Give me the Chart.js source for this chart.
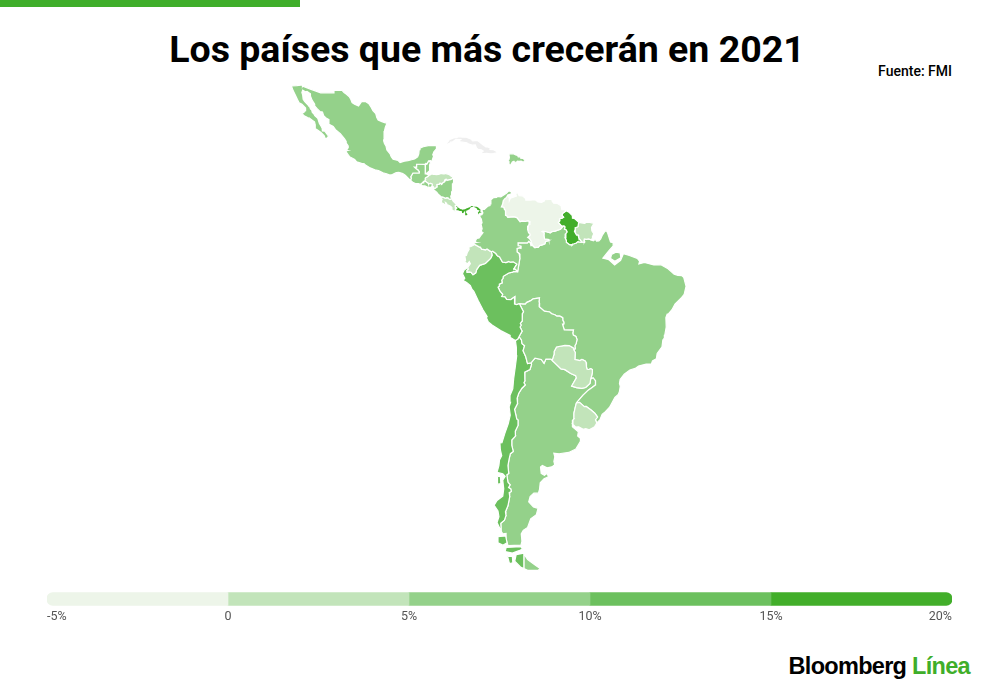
<!DOCTYPE html>
<html lang="es">
<head>
<meta charset="utf-8">
<title>Los países que más crecerán en 2021</title>
<script src="https://cdn.jsdelivr.net/npm/chart.js@4"></script>
<style>
    html, body { margin: 0; padding: 0; background: #fff; width: 1000px; height: 695px; overflow: hidden; font-family: Roboto, sans-serif; }
    #barra { position: absolute; left: 0; top: 0; width: 300px; height: 7px; background: #3fae2a; }
    h1 { position: absolute; left: 0; top: 27px; width: 974px; margin: 0; text-align: center; font-size: 37.5px; line-height: 44px; font-weight: 700; color: #000; }
    #fuente { position: absolute; right: 48px; top: 64px; font-size: 14px; line-height: 14px; font-weight: 500; color: #000; }
    #mapa { position: absolute; left: 250px; top: 80px; }
    #escala { position: absolute; left: 47px; top: 589px; }
    #logo { position: absolute; right: 30px; top: 652px; font-family: "Liberation Sans", sans-serif; font-size: 23.5px; line-height: 28px; font-weight: 700; letter-spacing: -0.7px; color: #000; }
    #logo span { color: #3fae2a; }
</style>
</head>
<body>
<div id="barra"></div>
<h1>Los países que más crecerán en 2021</h1>
<div id="fuente">Fuente: FMI</div>
<canvas id="mapa" width="470" height="505"></canvas>
<canvas id="escala" width="905" height="35"></canvas>
<div id="logo">Bloomberg <span>Línea</span></div>
<script>
// contornos en [longitud, latitud]
const mexico = [[-97.14,25.87],[-97.53,24.99],[-97.7,24.27],[-97.78,22.93],[-97.87,22.44],[-97.7,21.9],[-97.39,21.41],[-97.19,20.64],[-96.53,19.89],[-96.29,19.32],[-95.9,18.83],[-94.84,18.56],[-94.43,18.14],[-93.55,18.42],[-92.79,18.52],[-92.04,18.7],[-91.41,18.88],[-90.77,19.28],[-90.53,19.87],[-90.45,20.71],[-90.28,21],[-89.6,21.26],[-88.54,21.49],[-87.66,21.46],[-87.05,21.54],[-86.81,21.33],[-86.85,20.85],[-87.38,20.26],[-87.62,19.65],[-87.44,19.47],[-87.59,19.04],[-87.84,18.26],[-88.09,18.52],[-88.3,18.5],[-88.49,18.49],[-88.85,17.88],[-89.03,18],[-89.15,17.96],[-89.14,17.81],[-90.07,17.82],[-91,17.82],[-91,17.25],[-91.45,17.25],[-91.08,16.92],[-90.71,16.69],[-90.6,16.47],[-90.44,16.41],[-90.46,16.07],[-91.75,16.07],[-92.23,15.25],[-92.09,15.06],[-92.2,14.83],[-92.23,14.54],[-93.36,15.62],[-93.88,15.94],[-94.69,16.2],[-95.25,16.13],[-96.05,15.77],[-96.56,15.65],[-97.26,15.92],[-98.01,16.11],[-98.95,16.57],[-99.7,16.71],[-100.83,17.17],[-101.67,17.65],[-101.92,17.92],[-102.48,17.98],[-103.5,18.29],[-103.92,18.75],[-104.99,19.32],[-105.49,19.95],[-105.73,20.43],[-105.4,20.53],[-105.5,20.82],[-105.27,21.08],[-105.27,21.42],[-105.6,21.87],[-105.69,22.27],[-106.03,22.77],[-106.91,23.77],[-107.92,24.55],[-108.4,25.17],[-109.26,25.58],[-109.44,25.82],[-109.29,26.44],[-109.8,26.68],[-110.39,27.16],[-110.64,27.86],[-111.18,27.94],[-111.76,28.47],[-112.23,28.95],[-112.27,29.27],[-112.81,30.02],[-113.16,30.79],[-113.15,31.17],[-113.87,31.57],[-114.21,31.52],[-114.78,31.8],[-114.94,31.39],[-114.77,30.91],[-114.67,30.16],[-114.33,29.75],[-113.59,29.06],[-113.42,28.83],[-113.27,28.75],[-113.14,28.41],[-112.96,28.43],[-112.76,27.78],[-112.46,27.53],[-112.24,27.17],[-111.62,26.66],[-111.28,25.73],[-110.99,25.29],[-110.71,24.83],[-110.66,24.3],[-110.17,24.27],[-109.77,23.81],[-109.41,23.36],[-109.43,23.19],[-109.85,22.82],[-110.03,22.82],[-110.3,23.43],[-110.95,24],[-111.67,24.48],[-112.18,24.74],[-112.15,25.47],[-112.3,26.01],[-112.78,26.32],[-113.46,26.77],[-113.6,26.64],[-113.85,26.9],[-114.47,27.14],[-115.06,27.72],[-114.98,27.8],[-114.57,27.74],[-114.2,28.12],[-114.16,28.57],[-114.93,29.28],[-115.52,29.56],[-115.89,30.18],[-116.26,30.84],[-116.72,31.64],[-117.13,32.54],[-115.99,32.61],[-114.72,32.72],[-114.82,32.53],[-113.3,32.04],[-111.02,31.33],[-109.04,31.34],[-108.24,31.34],[-108.24,31.75],[-106.51,31.75],[-106.14,31.4],[-105.63,31.08],[-105.04,30.64],[-104.71,30.12],[-104.46,29.57],[-103.94,29.27],[-103.11,28.97],[-102.48,29.76],[-101.66,29.78],[-100.96,29.38],[-100.46,28.7],[-100.11,28.11],[-99.52,27.54],[-99.3,26.84],[-99.02,26.37],[-98.24,26.06],[-97.53,25.84],[-97.14,25.87]];
const guatemala = [[-90.1,13.74],[-90.61,13.91],[-91.23,13.93],[-91.69,14.13],[-92.23,14.54],[-92.2,14.83],[-92.09,15.06],[-92.23,15.25],[-91.75,16.07],[-90.46,16.07],[-90.44,16.41],[-90.6,16.47],[-90.71,16.69],[-91.08,16.92],[-91.45,17.25],[-91,17.25],[-91,17.82],[-90.07,17.82],[-89.14,17.81],[-89.15,17.02],[-89.23,15.89],[-88.93,15.89],[-88.6,15.71],[-88.52,15.86],[-88.23,15.73],[-88.68,15.35],[-89.15,15.07],[-89.23,14.87],[-89.15,14.68],[-89.35,14.42],[-89.59,14.36],[-89.53,14.24],[-89.72,14.13],[-90.06,13.88],[-90.1,13.74]];
const belice = [[-89.14,17.81],[-89.15,17.96],[-89.03,18],[-88.85,17.88],[-88.49,18.49],[-88.3,18.5],[-88.3,18.35],[-88.11,18.35],[-88.12,18.08],[-88.29,17.64],[-88.2,17.49],[-88.3,17.13],[-88.24,17.04],[-88.36,16.53],[-88.55,16.27],[-88.73,16.23],[-88.93,15.89],[-89.23,15.89],[-89.15,17.02],[-89.14,17.81]];
const elSalvador = [[-87.79,13.38],[-87.9,13.15],[-88.48,13.16],[-88.84,13.26],[-89.26,13.46],[-89.81,13.52],[-90.1,13.74],[-90.06,13.88],[-89.72,14.13],[-89.53,14.24],[-89.59,14.36],[-89.35,14.42],[-89.06,14.34],[-88.84,14.14],[-88.54,13.98],[-88.5,13.85],[-88.07,13.96],[-87.86,13.89],[-87.72,13.79],[-87.79,13.38]];
const honduras = [[-83.15,15],[-83.49,15.02],[-83.63,14.88],[-83.98,14.75],[-84.23,14.75],[-84.45,14.62],[-84.65,14.67],[-84.82,14.82],[-84.92,14.79],[-85.05,14.55],[-85.15,14.56],[-85.17,14.35],[-85.51,14.08],[-85.7,13.96],[-85.8,13.84],[-86.1,14.04],[-86.31,13.77],[-86.52,13.78],[-86.76,13.75],[-86.73,13.26],[-86.88,13.25],[-87.01,13.03],[-87.32,12.98],[-87.49,13.3],[-87.79,13.38],[-87.72,13.79],[-87.86,13.89],[-88.07,13.96],[-88.5,13.85],[-88.54,13.98],[-88.84,14.14],[-89.06,14.34],[-89.35,14.42],[-89.15,14.68],[-89.23,14.87],[-89.15,15.07],[-88.68,15.35],[-88.23,15.73],[-88.12,15.69],[-87.9,15.86],[-87.62,15.88],[-87.52,15.8],[-87.37,15.85],[-86.9,15.76],[-86.44,15.78],[-86.12,15.89],[-86,16.01],[-85.68,15.95],[-85.44,15.89],[-85.18,15.91],[-84.98,16],[-84.53,15.86],[-84.37,15.84],[-84.06,15.65],[-83.77,15.42],[-83.41,15.27],[-83.15,15]];
const nicaragua = [[-83.66,10.94],[-83.9,10.73],[-84.19,10.79],[-84.36,11],[-84.67,11.08],[-84.9,10.95],[-85.56,11.22],[-85.71,11.09],[-86.06,11.4],[-86.53,11.81],[-86.75,12.14],[-87.17,12.46],[-87.67,12.91],[-87.56,13.06],[-87.39,12.91],[-87.32,12.98],[-87.01,13.03],[-86.88,13.25],[-86.73,13.26],[-86.76,13.75],[-86.52,13.78],[-86.31,13.77],[-86.1,14.04],[-85.8,13.84],[-85.7,13.96],[-85.51,14.08],[-85.17,14.35],[-85.15,14.56],[-85.05,14.55],[-84.92,14.79],[-84.82,14.82],[-84.65,14.67],[-84.45,14.62],[-84.23,14.75],[-83.98,14.75],[-83.63,14.88],[-83.49,15.02],[-83.15,15],[-83.23,14.9],[-83.28,14.68],[-83.18,14.31],[-83.41,13.97],[-83.52,13.57],[-83.55,13.13],[-83.5,12.87],[-83.47,12.42],[-83.63,12.32],[-83.72,11.89],[-83.65,11.63],[-83.86,11.37],[-83.81,11.1],[-83.66,10.94]];
const costaRica = [[-82.97,8.23],[-83.51,8.45],[-83.71,8.66],[-83.6,8.83],[-83.63,9.05],[-83.91,9.29],[-84.3,9.49],[-84.65,9.62],[-84.71,9.91],[-84.98,10.09],[-84.91,9.8],[-85.11,9.56],[-85.34,9.83],[-85.66,9.93],[-85.8,10.13],[-85.79,10.44],[-85.66,10.75],[-85.94,10.9],[-85.71,11.09],[-85.56,11.22],[-84.9,10.95],[-84.67,11.08],[-84.36,11],[-84.19,10.79],[-83.9,10.73],[-83.66,10.94],[-83.4,10.4],[-83.02,9.99],[-82.55,9.57],[-82.93,9.48],[-82.93,9.07],[-82.72,8.93],[-82.87,8.81],[-82.83,8.63],[-82.91,8.42],[-82.97,8.23]];
const panama = [[-77.35,8.67],[-77.47,8.52],[-77.24,7.94],[-77.43,7.64],[-77.75,7.71],[-77.88,7.22],[-78.21,7.51],[-78.43,8.05],[-78.18,8.32],[-78.44,8.39],[-78.62,8.72],[-79.12,9],[-79.56,8.93],[-79.76,8.58],[-80.16,8.33],[-80.38,8.3],[-80.48,8.09],[-80,7.55],[-80.28,7.42],[-80.42,7.27],[-80.89,7.22],[-81.06,7.82],[-81.19,7.65],[-81.52,7.71],[-81.72,8.11],[-82.13,8.18],[-82.39,8.29],[-82.82,8.29],[-82.85,8.07],[-82.97,8.23],[-82.91,8.42],[-82.83,8.63],[-82.87,8.81],[-82.72,8.93],[-82.93,9.07],[-82.93,9.48],[-82.55,9.57],[-82.19,9.21],[-81.81,8.95],[-81.71,9.03],[-81.44,8.79],[-80.95,8.86],[-80.52,9.11],[-79.91,9.31],[-79.57,9.61],[-79.02,9.55],[-79.06,9.45],[-78.5,9.42],[-78.06,9.25],[-77.73,8.95],[-77.35,8.67]];
const cuba = [[-82.27,23.19],[-81.4,23.12],[-80.62,23.11],[-79.68,22.77],[-79.28,22.4],[-78.35,22.51],[-77.99,22.28],[-77.15,21.66],[-76.52,21.21],[-76.19,21.22],[-75.6,21.02],[-75.67,20.74],[-74.93,20.69],[-74.18,20.28],[-74.3,20.05],[-74.96,19.92],[-75.63,19.87],[-76.32,19.95],[-77.76,19.86],[-77.09,20.41],[-77.49,20.67],[-78.14,20.74],[-78.48,21.03],[-78.72,21.6],[-79.29,21.56],[-80.22,21.83],[-80.52,22.04],[-81.82,22.19],[-82.17,22.39],[-81.8,22.64],[-82.78,22.69],[-83.49,22.17],[-83.91,22.15],[-84.05,21.91],[-84.55,21.8],[-84.97,21.9],[-84.45,22.2],[-84.23,22.57],[-83.78,22.79],[-83.27,22.98],[-82.51,23.08],[-82.27,23.19]];
const dominicana = [[-71.71,19.71],[-71.59,19.88],[-70.81,19.88],[-70.21,19.62],[-69.95,19.65],[-69.77,19.29],[-69.22,19.31],[-69.25,19.02],[-68.81,18.98],[-68.32,18.61],[-68.69,18.21],[-69.16,18.42],[-69.62,18.38],[-69.95,18.43],[-70.13,18.25],[-70.52,18.18],[-70.67,18.43],[-71,18.28],[-71.4,17.6],[-71.66,17.76],[-71.71,18.04],[-71.69,18.32],[-71.95,18.62],[-71.7,18.79],[-71.62,19.17],[-71.71,19.71]];
const colombia = [[-75.37,-0.15],[-75.8,0.08],[-76.29,0.42],[-76.58,0.26],[-77.42,0.4],[-77.67,0.83],[-77.86,0.81],[-78.86,1.38],[-78.99,1.69],[-78.62,1.77],[-78.66,2.27],[-78.43,2.63],[-77.93,2.7],[-77.51,3.33],[-77.13,3.85],[-77.5,4.09],[-77.31,4.67],[-77.53,5.58],[-77.32,5.85],[-77.48,6.69],[-77.88,7.22],[-77.75,7.71],[-77.43,7.64],[-77.24,7.94],[-77.47,8.52],[-77.35,8.67],[-76.84,8.64],[-76.09,9.34],[-75.67,9.44],[-75.66,9.77],[-75.48,10.62],[-74.91,11.08],[-74.28,11.1],[-74.2,11.31],[-73.41,11.23],[-72.63,11.73],[-72.24,11.96],[-71.75,12.44],[-71.4,12.38],[-71.14,12.11],[-71.33,11.78],[-71.97,11.61],[-72.23,11.11],[-72.61,10.82],[-72.91,10.45],[-73.03,9.74],[-73.3,9.15],[-72.79,9.09],[-72.66,8.63],[-72.44,8.41],[-72.36,8],[-72.48,7.63],[-72.44,7.42],[-72.2,7.34],[-71.96,6.99],[-70.67,7.09],[-70.09,6.96],[-69.39,6.1],[-68.99,6.21],[-68.27,6.15],[-67.7,6.27],[-67.34,6.1],[-67.52,5.56],[-67.74,5.22],[-67.82,4.5],[-67.62,3.84],[-67.34,3.54],[-67.3,3.32],[-67.81,2.82],[-67.45,2.6],[-67.18,2.25],[-66.88,1.25],[-67.07,1.13],[-67.26,1.72],[-67.54,2.04],[-67.87,1.69],[-69.82,1.71],[-69.8,1.09],[-69.22,0.99],[-69.25,0.6],[-69.45,0.71],[-70.02,0.54],[-70.02,-0.19],[-69.58,-0.55],[-69.42,-1.12],[-69.44,-1.56],[-69.89,-4.3],[-70.39,-3.77],[-70.69,-3.74],[-70.05,-2.73],[-70.81,-2.26],[-71.41,-2.34],[-71.77,-2.17],[-72.33,-2.43],[-73.07,-2.31],[-73.66,-1.26],[-74.12,-1],[-74.44,-0.53],[-75.11,-0.06],[-75.37,-0.15]];
const venezuela = [[-71.33,11.78],[-71.36,11.54],[-71.95,11.42],[-71.62,10.97],[-71.63,10.45],[-71.4,10.97],[-70.16,11.38],[-70.29,11.85],[-69.94,12.16],[-69.58,11.46],[-68.88,11.44],[-68.23,10.89],[-68.19,10.55],[-67.3,10.55],[-66.23,10.65],[-65.66,10.2],[-64.89,10.08],[-64.33,10.39],[-64.32,10.64],[-63.08,10.7],[-61.88,10.72],[-62.73,10.42],[-62.39,9.95],[-61.59,9.87],[-60.83,9.38],[-60.67,8.58],[-60.15,8.6],[-59.76,8.37],[-60.55,7.78],[-60.64,7.42],[-60.3,7.04],[-60.54,6.86],[-61.16,6.7],[-61.14,6.23],[-61.41,5.96],[-60.73,5.2],[-60.6,4.92],[-60.97,4.54],[-62.09,4.16],[-62.8,4.01],[-63.09,3.77],[-63.89,4.02],[-64.63,4.15],[-64.82,4.06],[-64.37,3.8],[-64.41,3.13],[-64.27,2.5],[-63.42,2.41],[-63.37,2.2],[-64.08,1.92],[-64.2,1.49],[-64.61,1.33],[-65.35,1.1],[-65.55,0.79],[-66.33,0.72],[-66.88,1.25],[-67.18,2.25],[-67.45,2.6],[-67.81,2.82],[-67.3,3.32],[-67.34,3.54],[-67.62,3.84],[-67.82,4.5],[-67.74,5.22],[-67.52,5.56],[-67.34,6.1],[-67.7,6.27],[-68.27,6.15],[-68.99,6.21],[-69.39,6.1],[-70.09,6.96],[-70.67,7.09],[-71.96,6.99],[-72.2,7.34],[-72.44,7.42],[-72.48,7.63],[-72.36,8],[-72.44,8.41],[-72.66,8.63],[-72.79,9.09],[-73.3,9.15],[-73.03,9.74],[-72.91,10.45],[-72.61,10.82],[-72.23,11.11],[-71.97,11.61],[-71.33,11.78]];
const guyana = [[-59.76,8.37],[-59.1,8],[-58.48,7.35],[-58.45,6.83],[-58.08,6.81],[-57.54,6.32],[-57.15,5.97],[-57.31,5.07],[-57.91,4.81],[-57.86,4.58],[-58.04,4.06],[-57.6,3.33],[-57.28,3.33],[-57.15,2.77],[-56.54,1.9],[-56.78,1.86],[-57.34,1.95],[-57.66,1.68],[-58.11,1.51],[-58.43,1.46],[-58.54,1.27],[-59.03,1.32],[-59.65,1.79],[-59.72,2.25],[-59.97,2.76],[-59.82,3.61],[-59.54,3.96],[-59.77,4.42],[-60.11,4.57],[-59.98,5.01],[-60.21,5.24],[-60.73,5.2],[-61.41,5.96],[-61.14,6.23],[-61.16,6.7],[-60.54,6.86],[-60.3,7.04],[-60.64,7.42],[-60.55,7.78],[-59.76,8.37]];
const surinam = [[-57.15,5.97],[-55.95,5.77],[-55.84,5.95],[-55.03,6.03],[-53.96,5.76],[-54.48,4.9],[-54.4,4.21],[-54.01,3.62],[-54.18,3.19],[-54.27,2.73],[-54.52,2.31],[-55.1,2.52],[-55.57,2.42],[-55.97,2.51],[-56.07,2.22],[-55.91,2.02],[-56,1.82],[-56.54,1.9],[-57.15,2.77],[-57.28,3.33],[-57.6,3.33],[-58.04,4.06],[-57.86,4.58],[-57.91,4.81],[-57.31,5.07],[-57.15,5.97]];
const ecuador = [[-80.3,-3.4],[-79.77,-2.66],[-79.99,-2.22],[-80.37,-2.69],[-80.97,-2.25],[-80.76,-1.97],[-80.93,-1.06],[-80.58,-0.91],[-80.4,-0.28],[-80.02,0.36],[-80.09,0.77],[-79.54,0.98],[-78.86,1.38],[-77.86,0.81],[-77.67,0.83],[-77.42,0.4],[-76.58,0.26],[-76.29,0.42],[-75.8,0.08],[-75.37,-0.15],[-75.23,-0.91],[-75.54,-1.56],[-76.64,-2.61],[-77.84,-3],[-78.45,-3.87],[-78.64,-4.55],[-79.21,-4.96],[-79.62,-4.45],[-80.03,-4.35],[-80.44,-4.43],[-80.47,-4.06],[-80.18,-3.82],[-80.3,-3.4]];
const peru = [[-69.89,-4.3],[-70.79,-4.25],[-70.93,-4.4],[-71.75,-4.59],[-72.89,-5.27],[-72.96,-5.74],[-73.22,-6.09],[-73.12,-6.63],[-73.72,-6.92],[-73.72,-7.34],[-73.99,-7.52],[-73.57,-8.42],[-73.02,-9.03],[-73.23,-9.46],[-72.56,-9.52],[-72.18,-10.05],[-71.3,-10.08],[-70.48,-9.49],[-70.55,-11.01],[-70.09,-11.12],[-69.53,-10.95],[-68.67,-12.56],[-68.88,-12.9],[-68.93,-13.6],[-68.95,-14.45],[-69.34,-14.95],[-69.16,-15.32],[-69.39,-15.66],[-68.96,-16.5],[-69.59,-17.58],[-69.86,-18.09],[-70.37,-18.35],[-71.38,-17.77],[-71.46,-17.36],[-73.44,-16.36],[-75.24,-15.27],[-76.01,-14.65],[-76.42,-13.82],[-76.26,-13.54],[-77.11,-12.22],[-78.09,-10.38],[-79.04,-8.39],[-79.45,-7.93],[-79.76,-7.19],[-80.54,-6.54],[-81.25,-6.14],[-80.93,-5.69],[-81.41,-4.74],[-81.1,-4.04],[-80.3,-3.4],[-80.18,-3.82],[-80.47,-4.06],[-80.44,-4.43],[-80.03,-4.35],[-79.62,-4.45],[-79.21,-4.96],[-78.64,-4.55],[-78.45,-3.87],[-77.84,-3],[-76.64,-2.61],[-75.54,-1.56],[-75.23,-0.91],[-75.37,-0.15],[-75.11,-0.06],[-74.44,-0.53],[-74.12,-1],[-73.66,-1.26],[-73.07,-2.31],[-72.33,-2.43],[-71.77,-2.17],[-71.41,-2.34],[-70.81,-2.26],[-70.05,-2.73],[-70.69,-3.74],[-70.39,-3.77],[-69.89,-4.3]];
const bolivia = [[-62.85,-22.03],[-63.99,-21.99],[-64.38,-22.8],[-64.96,-22.08],[-66.27,-21.83],[-67.11,-22.74],[-67.83,-22.87],[-68.22,-21.49],[-68.76,-20.37],[-68.44,-19.41],[-68.97,-18.98],[-69.1,-18.26],[-69.59,-17.58],[-68.96,-16.5],[-69.39,-15.66],[-69.16,-15.32],[-69.34,-14.95],[-68.95,-14.45],[-68.93,-13.6],[-68.88,-12.9],[-68.67,-12.56],[-69.53,-10.95],[-68.79,-11.04],[-68.27,-11.01],[-68.05,-10.71],[-67.17,-10.31],[-66.65,-9.93],[-65.34,-9.76],[-65.44,-10.51],[-65.32,-10.9],[-65.4,-11.57],[-64.32,-12.46],[-63.2,-12.63],[-62.8,-13],[-62.13,-13.2],[-61.71,-13.49],[-61.08,-13.48],[-60.5,-13.78],[-60.46,-14.35],[-60.26,-14.65],[-60.25,-15.08],[-60.54,-15.09],[-60.16,-16.26],[-58.24,-16.3],[-58.39,-16.88],[-58.28,-17.27],[-57.73,-17.55],[-57.5,-18.17],[-57.68,-18.96],[-57.95,-19.4],[-57.85,-19.97],[-58.17,-20.18],[-58.18,-19.87],[-59.12,-19.36],[-60.04,-19.34],[-61.79,-19.63],[-62.27,-20.51],[-62.29,-21.05],[-62.69,-22.25],[-62.85,-22.03]];
const paraguay = [[-62.69,-22.25],[-62.29,-21.05],[-62.27,-20.51],[-61.79,-19.63],[-60.04,-19.34],[-59.12,-19.36],[-58.18,-19.87],[-58.17,-20.18],[-57.87,-20.73],[-57.94,-22.09],[-56.88,-22.28],[-56.47,-22.09],[-55.8,-22.36],[-55.61,-22.66],[-55.52,-23.57],[-55.4,-23.96],[-55.03,-24],[-54.65,-23.84],[-54.29,-24.02],[-54.29,-24.57],[-54.43,-25.16],[-54.63,-25.74],[-54.79,-26.62],[-55.7,-27.39],[-56.49,-27.55],[-57.61,-27.4],[-58.62,-27.12],[-57.63,-25.6],[-57.78,-25.16],[-58.81,-24.77],[-60.03,-24.03],[-60.85,-23.88],[-62.69,-22.25]];
const uruguay = [[-57.63,-30.22],[-56.98,-30.11],[-55.97,-30.88],[-55.6,-30.85],[-54.57,-31.49],[-53.79,-32.05],[-53.21,-32.73],[-53.65,-33.2],[-53.37,-33.77],[-53.81,-34.4],[-54.94,-34.95],[-55.67,-34.75],[-56.22,-34.86],[-57.14,-34.43],[-57.82,-34.46],[-58.43,-33.91],[-58.35,-33.26],[-58.13,-33.04],[-58.14,-32.04],[-57.87,-31.02],[-57.63,-30.22]];
const brasil = [[-57.63,-30.22],[-56.29,-28.85],[-55.16,-27.88],[-54.49,-27.47],[-53.65,-26.92],[-53.63,-26.12],[-54.13,-25.55],[-54.63,-25.74],[-54.43,-25.16],[-54.29,-24.57],[-54.29,-24.02],[-54.65,-23.84],[-55.03,-24],[-55.4,-23.96],[-55.52,-23.57],[-55.61,-22.66],[-55.8,-22.36],[-56.47,-22.09],[-56.88,-22.28],[-57.94,-22.09],[-57.87,-20.73],[-58.17,-20.18],[-57.85,-19.97],[-57.95,-19.4],[-57.68,-18.96],[-57.5,-18.17],[-57.73,-17.55],[-58.28,-17.27],[-58.39,-16.88],[-58.24,-16.3],[-60.16,-16.26],[-60.54,-15.09],[-60.25,-15.08],[-60.26,-14.65],[-60.46,-14.35],[-60.5,-13.78],[-61.08,-13.48],[-61.71,-13.49],[-62.13,-13.2],[-62.8,-13],[-63.2,-12.63],[-64.32,-12.46],[-65.4,-11.57],[-65.32,-10.9],[-65.44,-10.51],[-65.34,-9.76],[-66.65,-9.93],[-67.17,-10.31],[-68.05,-10.71],[-68.27,-11.01],[-68.79,-11.04],[-69.53,-10.95],[-70.09,-11.12],[-70.55,-11.01],[-70.48,-9.49],[-71.3,-10.08],[-72.18,-10.05],[-72.56,-9.52],[-73.23,-9.46],[-73.02,-9.03],[-73.57,-8.42],[-73.99,-7.52],[-73.72,-7.34],[-73.72,-6.92],[-73.12,-6.63],[-73.22,-6.09],[-72.96,-5.74],[-72.89,-5.27],[-71.75,-4.59],[-70.93,-4.4],[-70.79,-4.25],[-69.89,-4.3],[-69.44,-1.56],[-69.42,-1.12],[-69.58,-0.55],[-70.02,-0.19],[-70.02,0.54],[-69.45,0.71],[-69.25,0.6],[-69.22,0.99],[-69.8,1.09],[-69.82,1.71],[-67.87,1.69],[-67.54,2.04],[-67.26,1.72],[-67.07,1.13],[-66.88,1.25],[-66.33,0.72],[-65.55,0.79],[-65.35,1.1],[-64.61,1.33],[-64.2,1.49],[-64.08,1.92],[-63.37,2.2],[-63.42,2.41],[-64.27,2.5],[-64.41,3.13],[-64.37,3.8],[-64.82,4.06],[-64.63,4.15],[-63.89,4.02],[-63.09,3.77],[-62.8,4.01],[-62.09,4.16],[-60.97,4.54],[-60.6,4.92],[-60.73,5.2],[-60.21,5.24],[-59.98,5.01],[-60.11,4.57],[-59.77,4.42],[-59.54,3.96],[-59.82,3.61],[-59.97,2.76],[-59.72,2.25],[-59.65,1.79],[-59.03,1.32],[-58.54,1.27],[-58.43,1.46],[-58.11,1.51],[-57.66,1.68],[-57.34,1.95],[-56.78,1.86],[-56.54,1.9],[-56,1.82],[-55.91,2.02],[-56.07,2.22],[-55.97,2.51],[-55.57,2.42],[-55.1,2.52],[-54.52,2.31],[-54.09,2.11],[-53.78,2.38],[-53.55,2.33],[-53.42,2.05],[-52.94,2.12],[-52.56,2.5],[-52.25,3.24],[-51.66,4.16],[-51.32,4.2],[-51.07,3.65],[-50.51,1.9],[-49.97,1.74],[-49.95,1.05],[-50.7,0.22],[-51.3,-0.5],[-52.1,-1.5],[-51,-1.75],[-50.55,-2.1],[-49.65,-2.9],[-48.4,-1.95],[-47.82,-0.58],[-46.57,-0.94],[-44.91,-1.55],[-44.42,-2.14],[-44.58,-2.69],[-43.42,-2.38],[-41.47,-2.91],[-39.98,-2.87],[-38.5,-3.7],[-37.22,-4.82],[-36.45,-5.11],[-35.6,-5.15],[-35.24,-5.46],[-34.9,-6.74],[-34.73,-7.34],[-35.13,-9],[-35.64,-9.65],[-37.05,-11.04],[-37.68,-12.17],[-38.42,-13.04],[-38.67,-13.06],[-38.95,-13.79],[-38.88,-15.67],[-39.16,-17.21],[-39.27,-17.87],[-39.58,-18.26],[-39.76,-19.6],[-40.77,-20.9],[-40.94,-21.94],[-41.75,-22.37],[-41.99,-22.97],[-43.07,-22.97],[-44.65,-23.35],[-45.35,-23.8],[-46.47,-24.09],[-47.65,-24.89],[-48.5,-25.88],[-48.64,-26.62],[-48.47,-27.18],[-48.66,-28.19],[-48.89,-28.67],[-49.59,-29.22],[-50.7,-30.98],[-51.58,-31.78],[-52.26,-32.25],[-52.71,-33.2],[-53.37,-33.77],[-53.65,-33.2],[-53.21,-32.73],[-53.79,-32.05],[-54.57,-31.49],[-55.6,-30.85],[-55.97,-30.88],[-56.98,-30.11],[-57.63,-30.22]];
const marajo = [[-50.3,-0.75],[-49.4,-0.25],[-48.5,-0.4],[-48.35,-1.4],[-49.6,-2.15],[-50.5,-1.55],[-50.3,-0.75]];
const argentina = [[-64.96,-22.08],[-64.38,-22.8],[-63.99,-21.99],[-62.85,-22.03],[-62.69,-22.25],[-60.85,-23.88],[-60.03,-24.03],[-58.81,-24.77],[-57.78,-25.16],[-57.63,-25.6],[-58.62,-27.12],[-57.61,-27.4],[-56.49,-27.55],[-55.7,-27.39],[-54.79,-26.62],[-54.63,-25.74],[-54.13,-25.55],[-53.63,-26.12],[-53.65,-26.92],[-54.49,-27.47],[-55.16,-27.88],[-56.29,-28.85],[-57.63,-30.22],[-57.87,-31.02],[-58.14,-32.04],[-58.13,-33.04],[-58.35,-33.26],[-58.43,-33.91],[-58.5,-34.43],[-57.23,-35.29],[-57.36,-35.98],[-56.74,-36.41],[-56.79,-36.9],[-57.75,-38.18],[-59.23,-38.72],[-61.24,-38.93],[-62.34,-38.83],[-62.13,-39.42],[-62.33,-40.17],[-62.15,-40.68],[-62.75,-41.03],[-63.77,-41.17],[-64.73,-40.8],[-65.12,-41.06],[-64.98,-42.06],[-64.3,-42.36],[-63.76,-42.04],[-63.46,-42.56],[-64.38,-42.87],[-65.18,-43.5],[-65.33,-44.5],[-65.57,-45.04],[-66.51,-45.04],[-67.29,-45.55],[-67.58,-46.3],[-66.6,-47.03],[-65.64,-47.24],[-65.99,-48.13],[-67.17,-48.7],[-67.82,-49.87],[-68.73,-50.26],[-69.14,-50.73],[-69,-51.7],[-69.2,-52.2],[-71.91,-52.25],[-72.33,-51.43],[-72.31,-50.68],[-72.98,-50.74],[-73.33,-50.38],[-73.42,-49.32],[-72.65,-48.88],[-72.33,-48.24],[-72.45,-47.74],[-71.92,-46.88],[-71.55,-45.56],[-71.66,-44.97],[-71.22,-44.78],[-71.33,-44.41],[-71.79,-44.21],[-71.46,-43.79],[-71.92,-43.41],[-72.15,-42.25],[-71.75,-42.05],[-71.92,-40.83],[-71.68,-39.81],[-71.41,-38.92],[-70.81,-38.55],[-71.12,-37.58],[-71.12,-36.66],[-70.36,-36.01],[-70.39,-35.17],[-69.82,-34.19],[-69.81,-33.27],[-70.07,-33.09],[-70.54,-31.37],[-69.92,-30.34],[-70.01,-29.37],[-69.66,-28.46],[-69,-27.52],[-68.3,-26.9],[-68.59,-26.51],[-68.39,-26.19],[-68.42,-24.52],[-67.33,-24.03],[-66.99,-22.99],[-67.11,-22.74],[-66.27,-21.83],[-64.96,-22.08]];
const argentinaSur = [[-68.6,-53.3],[-67.8,-54],[-66.4,-54.6],[-65.2,-55.1],[-65.6,-55.3],[-67.8,-55.3],[-68.6,-55.1],[-68.6,-53.3]];
const chile = [[-69.59,-17.58],[-69.1,-18.26],[-68.97,-18.98],[-68.44,-19.41],[-68.76,-20.37],[-68.22,-21.49],[-67.83,-22.87],[-67.11,-22.74],[-66.99,-22.99],[-67.33,-24.03],[-68.42,-24.52],[-68.39,-26.19],[-68.59,-26.51],[-68.3,-26.9],[-69,-27.52],[-69.66,-28.46],[-70.01,-29.37],[-69.92,-30.34],[-70.54,-31.37],[-70.07,-33.09],[-69.81,-33.27],[-69.82,-34.19],[-70.39,-35.17],[-70.36,-36.01],[-71.12,-36.66],[-71.12,-37.58],[-70.81,-38.55],[-71.41,-38.92],[-71.68,-39.81],[-71.92,-40.83],[-71.75,-42.05],[-72.15,-42.25],[-71.92,-43.41],[-71.46,-43.79],[-71.79,-44.21],[-71.33,-44.41],[-71.22,-44.78],[-71.66,-44.97],[-71.55,-45.56],[-71.92,-46.88],[-72.45,-47.74],[-72.33,-48.24],[-72.65,-48.88],[-73.42,-49.32],[-73.33,-50.38],[-74.2,-49.2],[-73.8,-48.4],[-74,-47.6],[-74.8,-46.8],[-74.2,-46.1],[-73,-45.5],[-72.8,-44.4],[-73,-43.1],[-72.5,-42.5],[-73,-42.1],[-74.2,-41.9],[-73.8,-40.8],[-73.68,-39.94],[-73.22,-39.26],[-73.51,-38.28],[-73.59,-37.16],[-73.17,-37.12],[-72.55,-35.51],[-71.86,-33.91],[-71.44,-32.42],[-71.67,-30.92],[-71.37,-30.1],[-71.49,-28.86],[-70.91,-27.64],[-70.72,-25.71],[-70.4,-23.63],[-70.09,-21.39],[-70.16,-19.76],[-70.37,-18.35],[-69.86,-18.09],[-69.59,-17.58]];
const chiloe = [[-74.1,-42.5],[-73.5,-42.5],[-73.4,-43.6],[-74,-43.7],[-74.1,-42.5]];
const chileMagallanes = [[-74,-51.1],[-72.4,-51],[-72.1,-51.9],[-73,-52.2],[-74,-51.9],[-74,-51.1]];
const chileEstrecho = [[-72.3,-52.5],[-69.2,-52.4],[-68.9,-52.7],[-69.6,-52.9],[-71,-53.2],[-72.5,-53],[-72.3,-52.5]];
const chileFuego = [[-70.2,-53.4],[-68.6,-53.2],[-68.6,-55.1],[-69.3,-54.9],[-70.5,-54.2],[-70.2,-53.4]];
const chileIsla = [[-72,-53.6],[-71,-53.6],[-70.9,-54.4],[-71.6,-54.5],[-72,-53.6]];

const poligonos = [mexico, guatemala, belice, elSalvador, honduras, nicaragua, costaRica, panama, cuba, dominicana, colombia, venezuela, guyana, surinam, ecuador, peru, bolivia, paraguay, uruguay, brasil, marajo, chile, chiloe, chileMagallanes, chileEstrecho, chileFuego, chileIsla, argentina, argentinaSur];
const paises = ['México', 'Guatemala', 'Belice', 'El Salvador', 'Honduras', 'Nicaragua', 'Costa Rica', 'Panamá', 'Cuba', 'República Dominicana', 'Colombia', 'Venezuela', 'Guyana', 'Surinam', 'Ecuador', 'Perú', 'Bolivia', 'Paraguay', 'Uruguay', 'Brasil', 'Brasil (Marajó)', 'Chile', 'Chile (Chiloé)', 'Chile (Magallanes)', 'Chile (Estrecho)', 'Chile (Tierra del Fuego)', 'Chile (isla)', 'Argentina', 'Argentina (Tierra del Fuego)'];
// crecimiento estimado por el tramo de color de cada pais
const crecimiento = [7, 7, 7, 7, 3, 7, 3, 16, null, 7, 7, -3, 17, 2, 3, 12, 7, 3, 3, 7, 7, 12, 12, 12, 12, 12, 12, 7, 7];

const tramos = [-5, 0, 5, 10, 15, 20];
const colores = ['#edf5e9', '#c2e4ba', '#94d18a', '#6cc05e', '#42ae2a'];
const sinDato = '#eeeeee';

function colorDe(valor) {
    if (valor === null) return sinDato;
    for (let i = 0; i < colores.length; i++) {
        if (valor < tramos[i + 1]) return colores[i];
    }
    return colores[colores.length - 1];
}

// proyeccion de Mercator, en grados
function mercator(lat) {
    return Math.log(Math.tan(Math.PI / 4 + lat * Math.PI / 360)) * 180 / Math.PI;
}

new Chart(document.getElementById('mapa'), {
    type: 'scatter',
    data: {
        datasets: poligonos.map((contorno, i) => ({
            label: paises[i],
            data: contorno.map(p => ({x: p[0], y: mercator(p[1])})),
            showLine: true,
            fill: 'shape',
            backgroundColor: colorDe(crecimiento[i]),
            borderColor: '#ffffff',
            borderWidth: paises[i] === 'Panamá' ? 2 : 1.2,
            pointRadius: 0
        }))
    },
    options: {
        responsive: false,
        animation: false,
        events: [],
        layout: {padding: 0},
        scales: {
            x: {type: 'linear', display: false, min: -125.77, max: -27.65},
            y: {type: 'linear', display: false, min: -69.73, max: 35.7}
        },
        plugins: {legend: {display: false}, tooltip: {enabled: false}}
    }
});

new Chart(document.getElementById('escala'), {
    type: 'bar',
    data: {
        labels: ['Crecimiento'],
        datasets: colores.map((color, i) => ({
            data: [[tramos[i], tramos[i + 1]]],
            backgroundColor: color,
            barThickness: 13,
            grouped: false,
            borderSkipped: false,
            borderRadius: i === 0 ? {topLeft: 6, bottomLeft: 6} : i === colores.length - 1 ? {topRight: 6, bottomRight: 6} : 0
        }))
    },
    options: {
        indexAxis: 'y',
        responsive: false,
        animation: false,
        events: [],
        layout: {padding: 0},
        scales: {
            x: {
                min: tramos[0],
                max: tramos[tramos.length - 1],
                grid: {display: false, drawTicks: false},
                border: {display: false},
                afterBuildTicks: scale => { scale.ticks = tramos.map(v => ({value: v})); },
                ticks: {
                    align: 'inner',
                    padding: 0,
                    maxRotation: 0,
                    color: '#555555',
                    font: {family: 'Roboto', size: 12.5},
                    callback: v => v === 0 ? '0' : v + '%'
                }
            },
            y: {display: false}
        },
        plugins: {legend: {display: false}, tooltip: {enabled: false}}
    }
});
</script>
</body>
</html>
